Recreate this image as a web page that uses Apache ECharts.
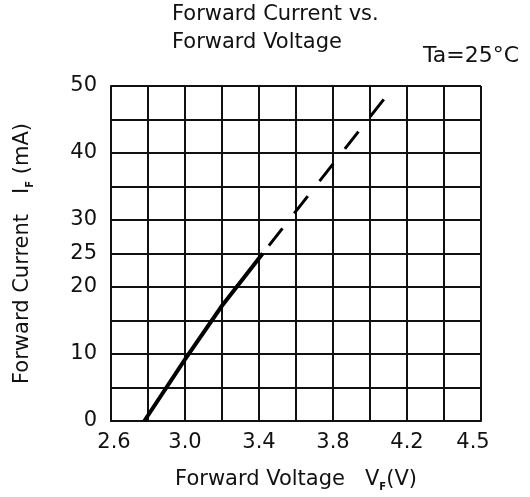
<!DOCTYPE html>
<html>
<head>
<meta charset="utf-8">
<script src="https://cdn.jsdelivr.net/npm/echarts@6/dist/echarts.min.js"></script>
<style>
  html, body { margin: 0; padding: 0; background: #fff; }
  #chart { width: 530px; height: 497px; }
</style>
</head>
<body>
<div id="chart"></div>
<script>
// ---- data ----
const xTickValues = [2.6, 3.0, 3.4, 3.8, 4.2, 4.6];
const xTickLabels = ['2.6', '3.0', '3.4', '3.8', '4.2', '4.5'];
const yTickLabels = [0, 10, 20, 25, 30, 40, 50];
const solidCurve = [[2.78, 0], [3.0, 9.2], [3.2, 17.2], [3.42, 25]];
const dashedCurve = [[3.42, 25], [4.08, 48.2]];

const FONT = 'DejaVu Sans';
const INK = '#111';
const FS = 21;

const chart = echarts.init(document.getElementById('chart'), null, { renderer: 'canvas' });

chart.setOption({
  animation: false,
  backgroundColor: '#fff',
  title: [
    {
      text: 'Forward Current vs.\nForward Voltage',
      left: 172,
      top: 1,
      padding: 0,
      textStyle: { fontFamily: FONT, fontSize: FS, lineHeight: 28, fontWeight: 'normal', color: INK }
    },
    {
      text: 'Ta=25°C',
      right: 11,
      top: 44,
      padding: 0,
      textStyle: { fontFamily: FONT, fontSize: 22, lineHeight: 24, fontWeight: 'normal', color: INK }
    }
  ],
  grid: { left: 111, right: 49, top: 86, bottom: 75, containLabel: false },
  xAxis: {
    type: 'value',
    min: 2.6,
    max: 4.6,
    interval: 0.2,
    name: '{a|Forward Voltage   V}{s|F}{a|(V)}',
    nameLocation: 'middle',
    nameGap: 47,
    nameTextStyle: {
      rich: {
        a: { fontFamily: FONT, fontSize: FS, lineHeight: 24, color: INK },
        s: { fontFamily: FONT, fontSize: 10, lineHeight: 11, verticalAlign: 'bottom', color: INK, fontWeight: 'bold' }
      }
    },
    axisLine: { show: true, onZero: false, lineStyle: { color: INK, width: 2 } },
    axisTick: { show: false },
    splitLine: { show: true, lineStyle: { color: INK, width: 2 } },
    axisLabel: {
      margin: 11,
      fontFamily: FONT,
      fontSize: FS,
      color: INK,
      showMinLabel: true,
      showMaxLabel: true,
      formatter: function (v) {
        const key = Math.round(v * 10) / 10;
        const idx = xTickValues.findIndex(t => Math.abs(t - key) < 1e-6);
        if (idx < 0) return '';
        if (idx === 0) return '{l|' + xTickLabels[idx] + '}';
        if (idx === xTickValues.length - 1) return '{r|' + xTickLabels[idx] + '}';
        return xTickLabels[idx];
      },
      rich: {
        l: { fontFamily: FONT, fontSize: FS, color: INK, padding: [0, 0, 0, 6] },
        r: { fontFamily: FONT, fontSize: FS, color: INK, padding: [0, 16, 0, 0] }
      }
    }
  },
  yAxis: {
    type: 'value',
    min: 0,
    max: 50,
    interval: 5,
    name: '{a|Forward Current   I}{s|F}{a| (mA)}',
    nameLocation: 'middle',
    nameRotate: 90,
    nameGap: 76,
    nameTextStyle: {
      rich: {
        a: { fontFamily: FONT, fontSize: FS, lineHeight: 24, color: INK },
        s: { fontFamily: FONT, fontSize: 10, lineHeight: 11, verticalAlign: 'bottom', color: INK, fontWeight: 'bold' }
      }
    },
    axisLine: { show: true, onZero: false, lineStyle: { color: INK, width: 2 } },
    axisTick: { show: false },
    splitLine: { show: true, lineStyle: { color: INK, width: 2 } },
    axisLabel: {
      margin: 14,
      fontFamily: FONT,
      fontSize: FS,
      color: INK,
      formatter: function (v) {
        const r = Math.round(v);
        return yTickLabels.indexOf(r) >= 0 ? String(r) : '';
      }
    }
  },
  series: [
    {
      name: 'measured',
      type: 'line',
      data: solidCurve,
      showSymbol: false,
      symbol: 'none',
      lineStyle: { color: '#000', width: 4 },
      z: 5
    },
    {
      name: 'extrapolated',
      type: 'line',
      data: dashedCurve,
      showSymbol: false,
      symbol: 'none',
      lineStyle: { color: '#000', width: 3, type: [22, 19], dashOffset: 31 },
      z: 5
    }
  ]
});
</script>
</body>
</html>
